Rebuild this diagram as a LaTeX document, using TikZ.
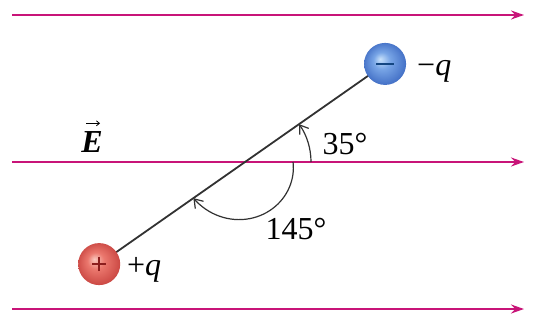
\documentclass[tikz,border=0pt]{standalone}
\usepackage{fontspec}
\setmainfont{Liberation Serif}
\usetikzlibrary{arrows.meta,calc}
\definecolor{field}{RGB}{200,20,120}
\definecolor{rod}{RGB}{50,50,50}
\pgfdeclareradialshading{redball}{\pgfpoint{-6pt}{6pt}}{%
  color(0pt)=(rgb,255:red,250;green,200;blue,190);
  color(10pt)=(rgb,255:red,235;green,120;blue,110);
  color(25pt)=(rgb,255:red,205;green,75;blue,70);
  color(30pt)=(rgb,255:red,190;green,60;blue,60)}
\pgfdeclareradialshading{blueball}{\pgfpoint{-6pt}{6pt}}{%
  color(0pt)=(rgb,255:red,200;green,225;blue,250);
  color(10pt)=(rgb,255:red,120;green,165;blue,230);
  color(25pt)=(rgb,255:red,70;green,115;blue,200);
  color(30pt)=(rgb,255:red,55;green,95;blue,180)}
\begin{document}
\begin{tikzpicture}[x=1pt,y=1pt,
  fieldline/.style={draw=field,line width=2pt,-{Stealth[length=13pt,width=9pt]}},
  angarc/.style={draw=rod,line width=1.2pt,-{Straight Barb[length=8pt,width=11pt]}},
  lbl/.style={font=\fontsize{32}{36}\selectfont,text=black,inner sep=1pt}]
\useasboundingbox (0,0) rectangle (534,322);
\fill[white] (0,0) rectangle (534,322);
% field lines
\coordinate (a1) at (12,307); \coordinate (b1) at (524,307);
\coordinate (a2) at (12,160); \coordinate (b2) at (524,160);
\coordinate (a3) at (12,13);  \coordinate (b3) at (524,13);
\draw[fieldline] (a1) -- (b1);
\draw[fieldline] (a2) -- (b2);
\draw[fieldline] (a3) -- (b3);
% dipole
\coordinate (O) at (245,160);
\coordinate (neg) at ($(O)+(35:171)$);
\coordinate (pos) at ($(O)+(215:178)$);
\draw[rod,line width=1.8pt] (pos) -- (neg);
\shade[shading=blueball] (neg) circle (21);
\shade[shading=redball] (pos) circle (21);
\draw[line width=2.4pt,draw={rgb,255:red,20;green,70;blue,130}] ($(neg)+(-9,0)$) -- ($(neg)+(9,0)$);
\draw[line width=1.6pt,draw={rgb,255:red,140;green,30;blue,30}] ($(pos)+(-7,0)$) -- ($(pos)+(7,0)$);
\draw[line width=1.6pt,draw={rgb,255:red,140;green,30;blue,30}] ($(pos)+(0,-7)$) -- ($(pos)+(0,7)$);
% angle arcs
\draw[angarc] ($(O)+(66,0)$) arc[start angle=0,end angle=35,radius=66];
\draw[angarc,shift={(O)}] plot[domain=0:-145,smooth,samples=40] (\x:{48+15*(-\x)/145});
% labels
\node[lbl] (l35) at (345,178) {35°};
\node[lbl] (l145) at (296,93) {145°};
\node[lbl,anchor=base west] (lneg) at (416,247) {−\textit{q}};
\node[lbl,anchor=base west] (lpos) at (126,47) {+\textit{q}};
\node[lbl] (lE) at (92,180) {\textbf{\textit{E}}};
\draw[line width=0.8pt,-{Straight Barb[length=3pt,width=5pt]}] ($(lE.north)+(-6,7)$) -- ($(lE.north)+(8,7)$);
\end{tikzpicture}
\end{document}
